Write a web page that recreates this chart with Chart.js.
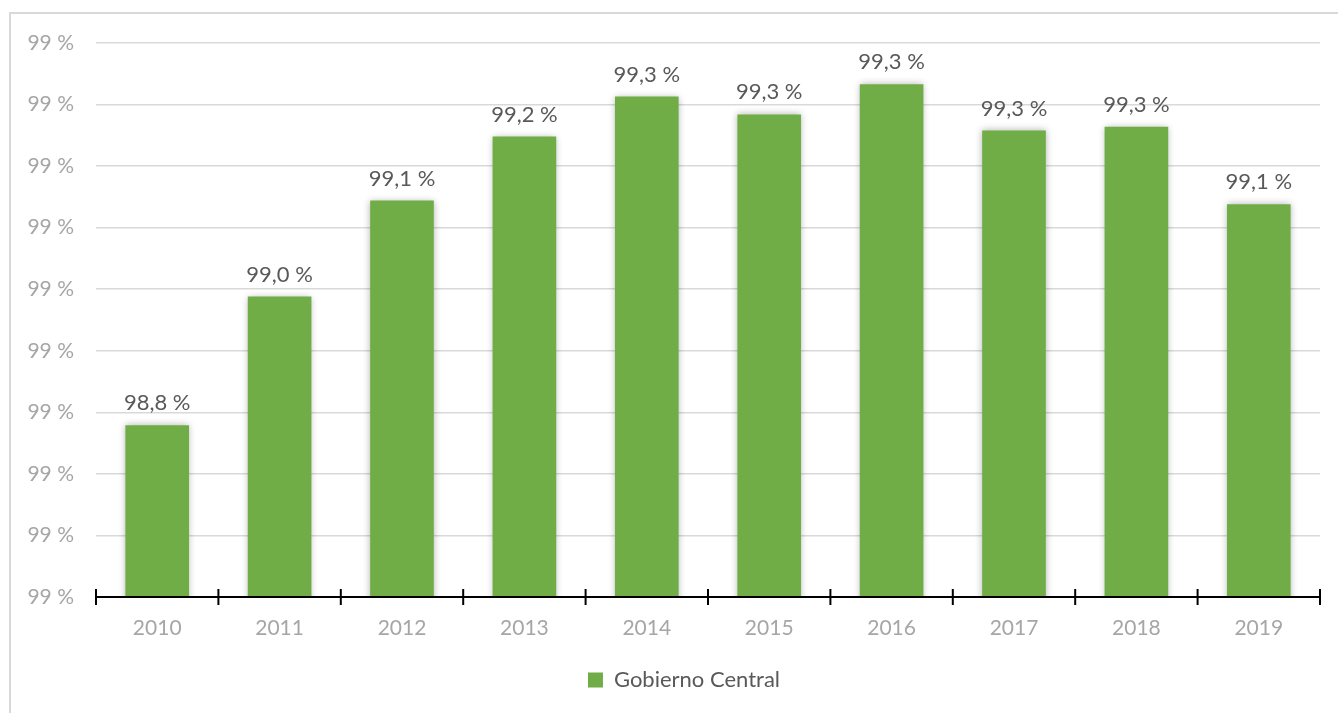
<!DOCTYPE html>
<html>
<head>
<meta charset="utf-8">
<script src="https://cdn.jsdelivr.net/npm/chart.js@4/dist/chart.umd.min.js"></script>
<style>
  html, body { margin: 0; padding: 0; background: #ffffff; }
  #wrap { position: relative; width: 1338px; height: 713px; }
</style>
</head>
<body>
<div id="wrap"><canvas id="chart" width="1338" height="713"></canvas></div>
<script>
// Years on the category axis
const years = ['2010', '2011', '2012', '2013', '2014', '2015', '2016', '2017', '2018', '2019'];
// Share for the central government, in percent
const gobiernoCentral = [98.779, 98.988, 99.144, 99.248, 99.313, 99.284, 99.333, 99.258, 99.264, 99.138];
const seriesName = 'Gobierno Central';

const GREEN = '#70AD47';
const FONT = 'Lato, "Open Sans", "Noto Sans", sans-serif';

const fmtLabel = v => v.toFixed(1).replace('.', ',') + ' %';
const fmtTick = v => Math.round(v) + ' %';

// Soft shadow behind the bars
const barShadow = {
  id: 'barShadow',
  beforeDatasetsDraw(chart) {
    const ctx = chart.ctx;
    ctx.save();
    ctx.shadowColor = 'rgba(0,0,0,0.30)';
    ctx.shadowBlur = 7;
    ctx.shadowOffsetX = 0;
    ctx.shadowOffsetY = 0;
  },
  afterDatasetsDraw(chart) {
    chart.ctx.restore();
  }
};

// Nudge the legend slightly to the right of the canvas centre
const legendShift = {
  id: 'legendShift',
  afterLayout(chart) {
    const lg = chart.legend;
    if (!lg) return;
    const dx = 24;
    lg.left += dx;
    lg.right += dx;
  }
};

// Category axis line with tick marks on the category boundaries, value labels and frame
const decorations = {
  id: 'decorations',
  afterDraw(chart) {
    const ctx = chart.ctx;
    const x = chart.scales.x;
    const area = chart.chartArea;

    // outer frame
    ctx.save();
    ctx.strokeStyle = '#d9d9d9';
    ctx.lineWidth = 2;
    ctx.beginPath();
    ctx.moveTo(10, chart.height + 5);
    ctx.lineTo(10, 13);
    ctx.lineTo(chart.width + 5, 13);
    ctx.stroke();

    // axis line
    const y0 = area.bottom;
    ctx.strokeStyle = '#000000';
    ctx.lineWidth = 2;
    ctx.beginPath();
    ctx.moveTo(area.left, y0);
    ctx.lineTo(area.right, y0);
    ctx.stroke();

    // boundary ticks
    const n = years.length;
    const step = (area.right - area.left) / n;
    ctx.beginPath();
    for (let i = 0; i <= n; i++) {
      const px = i < n ? x.getPixelForValue(i) - step / 2 : x.getPixelForValue(n - 1) + step / 2;
      ctx.moveTo(px, y0 - 8);
      ctx.lineTo(px, y0 + 8);
    }
    ctx.stroke();

    // value labels
    const meta = chart.getDatasetMeta(0);
    ctx.fillStyle = '#595959';
    ctx.font = '22px ' + FONT;
    ctx.textAlign = 'center';
    ctx.textBaseline = 'bottom';
    meta.data.forEach((bar, i) => {
      ctx.fillText(fmtLabel(gobiernoCentral[i]), bar.x, bar.y - 11);
    });
    ctx.restore();
  }
};

new Chart(document.getElementById('chart'), {
  type: 'bar',
  data: {
    labels: years,
    datasets: [{
      label: seriesName,
      data: gobiernoCentral,
      backgroundColor: GREEN,
      borderWidth: 0,
      categoryPercentage: 1.0,
      barPercentage: 0.52
    }]
  },
  options: {
    responsive: false,
    animation: false,
    layout: { padding: { left: 0, top: 43, right: 18, bottom: 12 } },
    scales: {
      y: {
        min: 98.5,
        max: 99.4,
        ticks: {
          stepSize: 0.1,
          callback: v => fmtTick(v),
          color: '#a6a6a6',
          font: { family: FONT, size: 21 },
          padding: 22
        },
        grid: { color: '#d9d9d9', lineWidth: 1.5, drawTicks: false },
        border: { display: false },
        afterFit(scale) { scale.width = 96; }
      },
      x: {
        ticks: {
          color: '#a6a6a6',
          font: { family: FONT, size: 21 },
          padding: 19
        },
        grid: { display: false, drawTicks: false },
        border: { display: false },
        afterFit(scale) { scale.height = 64; }
      }
    },
    plugins: {
      legend: {
        position: 'bottom',
        labels: {
          color: '#595959',
          font: { family: FONT, size: 22 },
          boxWidth: 15,
          boxHeight: 15,
          padding: 8
        }
      },
      tooltip: { enabled: false }
    }
  },
  plugins: [barShadow, legendShift, decorations]
});
</script>
</body>
</html>
